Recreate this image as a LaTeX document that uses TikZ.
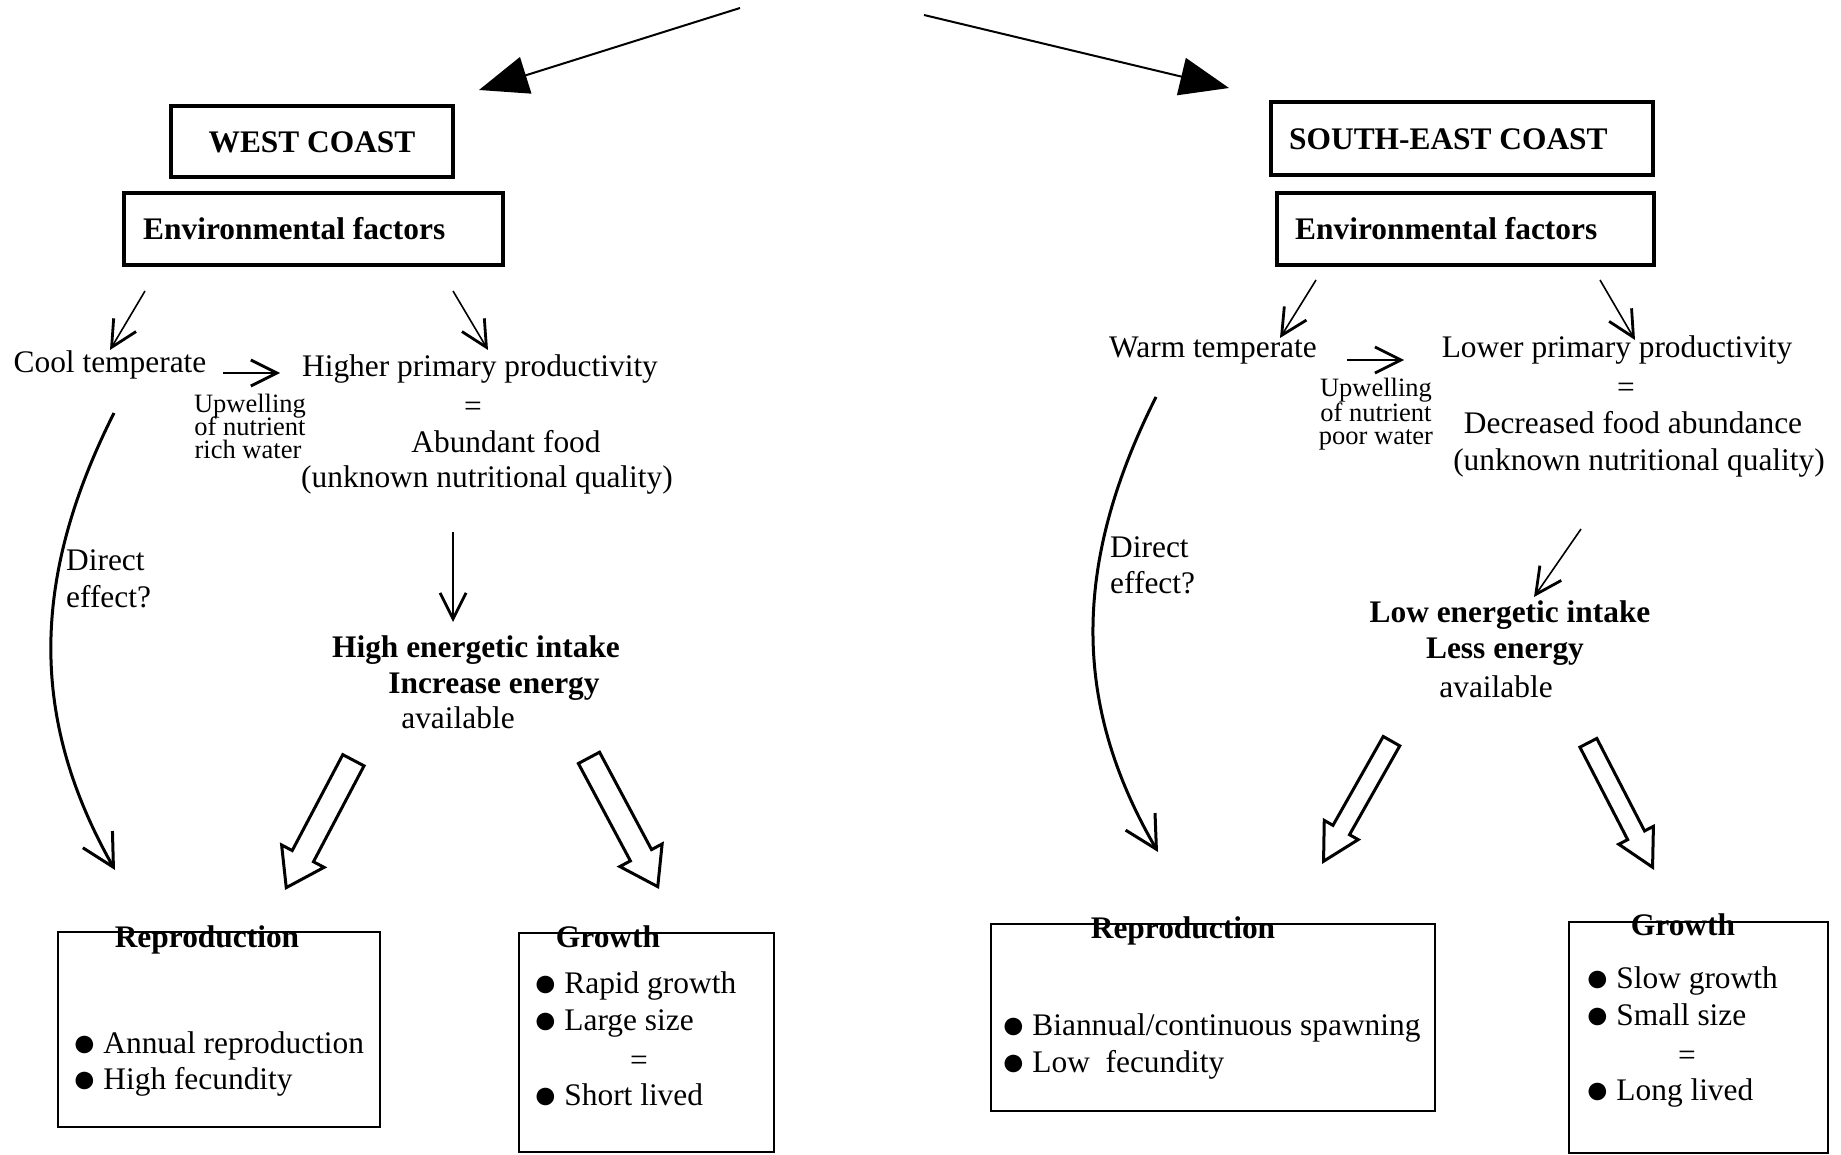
\documentclass[tikz,border=0pt]{standalone}
\usepackage{fontspec}
\setmainfont{Liberation Serif}
\usetikzlibrary{arrows.meta,shapes.arrows}
% enlarged list bullet, centred on the x-height
\newcommand{\bul}{\smash{\raisebox{-3.2pt}{\scalebox{1.3}{●}}}\kern-2pt\ }

\begin{document}
\begin{tikzpicture}[x=1pt,y=-1pt,
  txt/.style={inner sep=0pt, anchor=base, font=\fontsize{31.4}{36.7}\selectfont},
  btxt/.style={inner sep=0pt, anchor=base, font=\fontsize{31.4}{36.7}\selectfont\bfseries},
  ltxt/.style={txt, anchor=base west},
  smalltxt/.style={inner sep=0pt, anchor=base, font=\fontsize{26.5}{23}\selectfont},
  headbox/.style={draw, line width=3.5pt, inner sep=0pt},
  listbox/.style={draw, line width=2pt, inner sep=0pt},
  bigarrow/.style={line width=2pt, -{Triangle[length=49pt,width=38pt]}},
  thinarrow/.style={line width=1.6pt, -{Straight Barb[length=26pt,width=26pt,line width=2.8pt]}},
  curvearrow/.style={line width=3pt, -{Straight Barb[length=32pt,width=34pt,line width=3pt]}},
  hollowwide/.style={single arrow, draw, line width=3pt, inner xsep=0pt, inner ysep=10.5pt,
    minimum width=46pt, single arrow head extend=12pt,
    single arrow tip angle=68, single arrow head indent=0pt, anchor=tip},
  hollownarrow/.style={single arrow, draw, line width=3pt, inner xsep=0pt, inner ysep=8pt,
    minimum width=36pt, single arrow head extend=10pt,
    single arrow tip angle=57, single arrow head indent=0pt, anchor=tip}
]
\useasboundingbox[fill=white] (0,0) rectangle (1841,1155);

% ---------- arrows splitting towards the two coasts ----------
\coordinate (topL0) at (740,8);
\coordinate (topL1) at (479,90);
\coordinate (topR0) at (924,15);
\coordinate (topR1) at (1229,88);
\draw[bigarrow] (topL0) -- (topL1);
\draw[bigarrow] (topR0) -- (topR1);

% ================= WEST COAST =================
\node[headbox, minimum width=282pt, minimum height=71pt] (wc) at (312,141.5) {};
\node[btxt] (wctext) at (312,153) {WEST COAST};
\node[headbox, minimum width=379pt, minimum height=72pt] (envL) at (313.5,229) {};
\node[btxt, anchor=base west] (envLtext) at (143,240) {Environmental factors};

\coordinate (a1s) at (145,291);
\coordinate (a1e) at (110,350);
\coordinate (a2s) at (453,291);
\coordinate (a2e) at (488,350);
\draw[thinarrow] (a1s) -- (a1e);
\draw[thinarrow] (a2s) -- (a2e);

\node[txt] (cool) at (110,373) {Cool temperate};
\coordinate (upLs) at (223,373);
\coordinate (upLe) at (280,373);
\draw[thinarrow] (upLs) -- (upLe);
\node[smalltxt] (upL1) at (250,412) {Upwelling};
\node[smalltxt] (upL2) at (250,435) {of nutrient};
\node[smalltxt] (upL3) at (248,458) {rich water};

\node[txt] (higher) at (480,377) {Higher primary productivity};
\node[txt] (eqL) at (473,416) {=};
\node[txt] (abund) at (506,452) {Abundant food};
\node[txt] (unkL) at (487,487) {(unknown nutritional quality)};

\coordinate (dLs) at (453,532);
\coordinate (dLe) at (453,622);
\draw[thinarrow] (dLs) -- (dLe);

\node[btxt] (highE) at (476,657) {High energetic intake};
\node[btxt] (incE) at (494,693) {Increase energy};
\node[txt] (availL) at (458,728) {available};

\node[ltxt] (dirL1) at (66,570) {Direct};
\node[ltxt] (dirL2) at (66,607) {effect?};
\coordinate (cLs) at (114,413);
\coordinate (cLe) at (115,870);
\draw[curvearrow] (cLs) .. controls (30,580) and (30,720) .. (cLe);

\node[hollowwide, minimum height=144pt, rotate=242.2] (hL1) at (285,890) {};
\node[hollowwide, minimum height=146pt, rotate=-61.9] (hL2) at (659,889) {};

\node[listbox, minimum width=322pt, minimum height=195pt] (reprL) at (219,1029.5) {};
\node[btxt] (reprLhead) at (207,947) {Reproduction};
\node[ltxt] (reprL1) at (72.7,1053) {\bul Annual reproduction};
\node[ltxt] (reprL2) at (72.7,1089) {\bul High fecundity};

\node[listbox, minimum width=255pt, minimum height=219pt] (growL) at (646.5,1042.5) {};
\node[btxt] (growLhead) at (608,947) {Growth};
\node[ltxt] (growL1) at (533.7,993) {\bul Rapid growth};
\node[ltxt] (growL2) at (533.7,1030) {\bul Large size};
\node[txt] (growLeq) at (639,1070) {=};
\node[ltxt] (growL3) at (533.7,1105) {\bul Short lived};

% ================= SOUTH-EAST COAST =================
\node[headbox, minimum width=382pt, minimum height=73pt] (se) at (1462,138.5) {};
\node[btxt, anchor=base west] (setext) at (1289,150) {SOUTH-EAST COAST};
\node[headbox, minimum width=377pt, minimum height=72pt] (envR) at (1465.5,229) {};
\node[btxt, anchor=base west] (envRtext) at (1295,240) {Environmental factors};

\coordinate (a3s) at (1316,280);
\coordinate (a3e) at (1280,338);
\coordinate (a4s) at (1600,280);
\coordinate (a4e) at (1635,340);
\draw[thinarrow] (a3s) -- (a3e);
\draw[thinarrow] (a4s) -- (a4e);

\node[txt] (warm) at (1213,358) {Warm temperate};
\coordinate (upRs) at (1347,360);
\coordinate (upRe) at (1404,360);
\draw[thinarrow] (upRs) -- (upRe);
\node[smalltxt] (upR1) at (1376,396) {Upwelling};
\node[smalltxt] (upR2) at (1376,421) {of nutrient};
\node[smalltxt] (upR3) at (1376,444) {poor water};

\node[txt] (lower) at (1617,358) {Lower primary productivity};
\node[txt] (eqR) at (1626,397) {=};
\node[txt] (decr) at (1633,433) {Decreased food abundance};
\node[txt] (unkR) at (1639,470) {(unknown nutritional quality)};

\coordinate (dRs) at (1581,529);
\coordinate (dRe) at (1534,597);
\draw[thinarrow] (dRs) -- (dRe);

\node[btxt] (lowE) at (1510,622) {Low energetic intake};
\node[btxt] (lessE) at (1505,658) {Less energy};
\node[txt] (availR) at (1496,697) {available};

\node[ltxt] (dirR1) at (1110,557) {Direct};
\node[ltxt] (dirR2) at (1110,593) {effect?};
\coordinate (cRs) at (1156,397);
\coordinate (cRe) at (1158,852);
\draw[curvearrow] (cRs) .. controls (1072,564) and (1072,704) .. (cRe);

\node[hollownarrow, minimum height=138pt, rotate=240.5] (hR1) at (1322,864) {};
\node[hollownarrow, minimum height=140pt, rotate=-62.7] (hR2) at (1654,870) {};

\node[listbox, minimum width=444pt, minimum height=187pt] (reprR) at (1213,1017.5) {};
\node[btxt] (reprRhead) at (1183,938) {Reproduction};
\node[ltxt] (reprR1) at (1001.7,1035) {\bul Biannual/continuous spawning};
\node[ltxt] (reprR2) at (1001.7,1072) {\bul Low~ fecundity};

\node[listbox, minimum width=259pt, minimum height=231pt] (growR) at (1698.5,1037) {};
\node[btxt] (growRhead) at (1683,935) {Growth};
\node[ltxt] (growR1) at (1585.7,988) {\bul Slow growth};
\node[ltxt] (growR2) at (1585.7,1025) {\bul Small size};
\node[txt] (growReq) at (1687,1065) {=};
\node[ltxt] (growR3) at (1585.7,1100) {\bul Long lived};
\end{tikzpicture}
\end{document}
